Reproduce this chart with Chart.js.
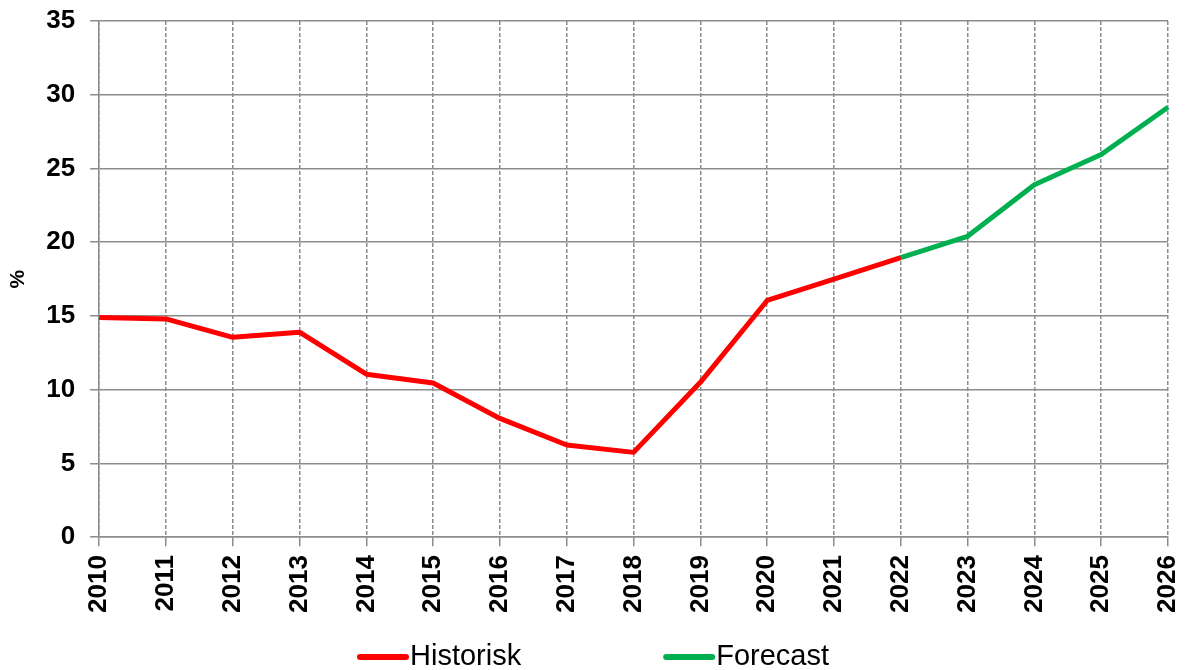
<!DOCTYPE html>
<html>
<head>
<meta charset="utf-8">
<script src="https://cdn.jsdelivr.net/npm/chart.js@4.4.0/dist/chart.umd.min.js"></script>
<style>
  body { margin: 0; background: #fff; }
  canvas { display: block; }
</style>
</head>
<body>
<canvas id="chart" width="1187" height="670"></canvas>
<script>
const years = ['2010', '2011', '2012', '2013', '2014', '2015', '2016', '2017', '2018',
  '2019', '2020', '2021', '2022', '2023', '2024', '2025', '2026'];
const historisk = [14.9, 14.8, 13.55, 13.9, 11.05, 10.45, 8.05, 6.25, 5.75,
  10.5, 16.05, 17.5, 18.95, null, null, null, null];
const forecast = [null, null, null, null, null, null, null, null, null,
  null, null, null, 18.95, 20.4, 23.9, 25.95, 29.15];
const yTicks = [0, 5, 10, 15, 20, 25, 30, 35];

const gridColor = '#8c8c8c';
const labelFont = { family: 'Liberation Sans', size: 26, weight: 'bold' };

// labels may hang over the plot edges, like in the original
function noOverhang(axis) {
  axis.paddingLeft = 0;
  axis.paddingRight = 0;
  axis.paddingTop = 0;
  axis.paddingBottom = 0;
}

// legend drawn by hand so the gaps match the original
const bottomLegend = {
  id: 'bottomLegend',
  afterDraw(chart) {
    const ctx = chart.ctx;
    const y = 657;
    let x = 360;
    ctx.save();
    ctx.font = '29px "Liberation Sans"';
    ctx.textBaseline = 'middle';
    chart.data.datasets.forEach((ds) => {
      ctx.strokeStyle = ds.borderColor;
      ctx.lineWidth = 6;
      ctx.lineCap = 'round';
      ctx.beginPath();
      ctx.moveTo(x, y);
      ctx.lineTo(x + 46, y);
      ctx.stroke();
      ctx.fillStyle = '#000';
      ctx.fillText(ds.label, x + 50, y);
      x += 50 + ctx.measureText(ds.label).width + 145;
    });
    ctx.restore();
  }
};

new Chart(document.getElementById('chart'), {
  type: 'line',
  data: {
    labels: years,
    datasets: [
      {
        label: 'Historisk',
        data: historisk,
        borderColor: '#ff0000',
        backgroundColor: '#ff0000',
        borderWidth: 5,
        pointRadius: 0,
        tension: 0,
        borderJoinStyle: 'round'
      },
      {
        label: 'Forecast',
        data: forecast,
        borderColor: '#00b050',
        backgroundColor: '#00b050',
        borderWidth: 5,
        pointRadius: 0,
        tension: 0,
        borderJoinStyle: 'round'
      }
    ]
  },
  options: {
    responsive: false,
    animation: false,
    layout: {
      padding: { left: 2, right: 19, top: 21, bottom: 48 }
    },
    plugins: {
      legend: { display: false },
      tooltip: { enabled: false }
    },
    scales: {
      x: {
        afterFit: noOverhang,
        grid: {
          color: gridColor,
          lineWidth: 1.5,
          tickLength: 9,
          tickBorderDash: []
        },
        border: { color: gridColor, width: 1.5, dash: [4, 2] },
        ticks: {
          color: '#000',
          font: labelFont,
          padding: 9,
          minRotation: 90,
          maxRotation: 90,
          autoSkip: false
        }
      },
      y: {
        min: 0,
        max: 35,
        afterFit: noOverhang,
        afterBuildTicks: (axis) => {
          axis.ticks = yTicks.map((v) => ({ value: v }));
        },
        grid: {
          color: gridColor,
          lineWidth: 1.5,
          tickLength: 9
        },
        border: { color: gridColor, width: 1.5 },
        ticks: {
          color: '#000',
          font: labelFont,
          padding: 15
        },
        title: {
          display: true,
          text: '%',
          color: '#000',
          font: { family: 'Liberation Sans', size: 21, weight: 'bold' },
          padding: { top: 4, bottom: 0 }
        }
      }
    }
  },
  plugins: [bottomLegend]
});
</script>
</body>
</html>
